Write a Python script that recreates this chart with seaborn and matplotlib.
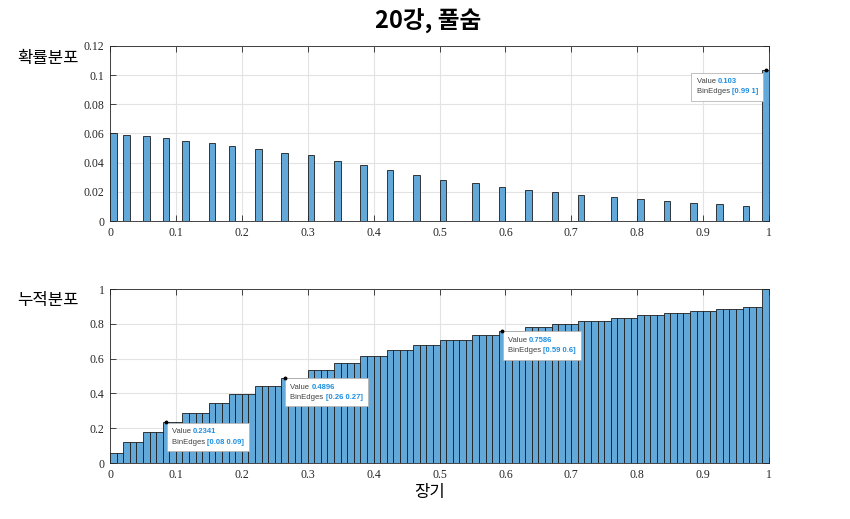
import numpy as np
import pandas as pd
import matplotlib
matplotlib.use("Agg")
import matplotlib.pyplot as plt
import seaborn as sns
from matplotlib.offsetbox import TextArea, HPacker, VPacker, AnnotationBbox

# ---------------- data ----------------
bin_index = [0, 2, 5, 8, 11, 15, 18, 22, 26, 30, 34, 38, 42, 46, 50,
             55, 59, 63, 67, 71, 76, 80, 84, 88, 92, 96, 99]
prob = [0.0601, 0.0592, 0.0582, 0.0566, 0.0551, 0.0532, 0.0513, 0.0494, 0.0465,
        0.0451, 0.0412, 0.0385, 0.0348, 0.0316, 0.0283, 0.0260, 0.0235,
        0.0212, 0.0196, 0.0180, 0.0164, 0.0150, 0.0134, 0.0122, 0.0115, 0.0101,
        0.1034]
n_bins = 100
title = "20강, 풀숨"
ylabel_top = "확률분포"
ylabel_bottom = "누적분포"
xlabel = "장기"
x_ticks = [0, 0.1, 0.2, 0.3, 0.4, 0.5, 0.6, 0.7, 0.8, 0.9, 1]
x_tick_labels = ["0", "0.1", "0.2", "0.3", "0.4", "0.5", "0.6", "0.7", "0.8", "0.9", "1"]
y_ticks_top = [0, 0.02, 0.04, 0.06, 0.08, 0.1, 0.12]
y_tick_labels_top = ["0", "0.02", "0.04", "0.06", "0.08", "0.1", "0.12"]
y_ticks_bottom = [0, 0.2, 0.4, 0.6, 0.8, 1]
y_tick_labels_bottom = ["0", "0.2", "0.4", "0.6", "0.8", "1"]
# datatips: (bin index, value text, edges text)
tips_top = [(99, "0.103", "[0.99 1]")]
tips_bottom = [(8, "0.2341", "[0.08 0.09]"), (26, "0.4896", "[0.26 0.27]"),
               (59, "0.7586", "[0.59 0.6]")]

edges = np.linspace(0, 1, n_bins + 1)
centers = (np.array(bin_index) + 0.5) / n_bins
df = pd.DataFrame({"x": centers, "p": prob})
per_bin = np.bincount(bin_index, weights=prob, minlength=n_bins)
cum = np.cumsum(per_bin)

# ---------------- style ----------------
sns.set_theme(style="white")
plt.rcParams["font.family"] = ["Noto Sans CJK KR", "DejaVu Sans"]
face = "#62A8D8"
edge = "#1c1c1c"
tick_font = dict(family="Liberation Serif", size=8.5)

fig = plt.figure(figsize=(8.5, 5.19), dpi=100)
W, H = 850, 519
ax1 = fig.add_axes([110 / W, 1 - 221 / H, 659 / W, 175 / H])
ax2 = fig.add_axes([110 / W, 1 - 463 / H, 659 / W, 174 / H])

sns.histplot(data=df, x="x", weights="p", bins=n_bins, binrange=(0, 1), ax=ax1,
             color=face, alpha=1, edgecolor=edge, linewidth=0.6, zorder=3)
sns.histplot(data=df, x="x", weights="p", bins=n_bins, binrange=(0, 1),
             cumulative=True, ax=ax2,
             color=face, alpha=1, edgecolor=edge, linewidth=0.6, zorder=3)

for ax, yt, ytl, ylim in [(ax1, y_ticks_top, y_tick_labels_top, (0, 0.12)),
                          (ax2, y_ticks_bottom, y_tick_labels_bottom, (0, 1))]:
    ax.set_xlim(0, 1)
    ax.set_ylim(*ylim)
    ax.set_xticks(x_ticks)
    ax.set_xticklabels(x_tick_labels, fontdict=tick_font, color="#262626")
    ax.set_yticks(yt)
    ax.set_yticklabels(ytl, fontdict=tick_font, color="#262626")
    ax.set_xlabel("")
    ax.set_ylabel("")
    ax.grid(True, color="#e3e3e3", linewidth=0.8, zorder=0)
    ax.set_axisbelow(True)
    ax.tick_params(direction="in", length=4, width=0.6, color="#262626",
                   top=True, right=True, bottom=True, left=True, pad=4)
    for s in ax.spines.values():
        s.set_color("#262626")
        s.set_linewidth(0.6)
        s.set_visible(True)


def datatip(ax, x, y, val, edg, align, offset):
    tp = dict(color="#404040", size=5.5, family="Liberation Sans")
    tb = dict(color="#1f8fe0", size=5.5, family="Liberation Sans", weight="bold")
    r1 = HPacker(children=[TextArea("Value ", textprops=tp), TextArea(val, textprops=tb)],
                 pad=0, sep=0)
    r2 = HPacker(children=[TextArea("BinEdges ", textprops=tp), TextArea(edg, textprops=tb)],
                 pad=0, sep=0)
    box = VPacker(children=[r1, r2], pad=0, sep=2.5, align="left")
    ab = AnnotationBbox(box, (x, y), xybox=offset, boxcoords="offset points",
                        box_alignment=align, pad=0.35, frameon=True,
                        bboxprops=dict(facecolor="white", edgecolor="#b5b5b5", linewidth=0.6),
                        zorder=10)
    ax.add_artist(ab)
    ax.plot([x], [y], "o", color="black", markersize=1.8, zorder=11, clip_on=False)


for b, val, edg in tips_top:
    datatip(ax1, edges[b] + 0.005, per_bin[b], val, edg, (1, 1), (-5.5, -5.6))
for b, val, edg in tips_bottom:
    datatip(ax2, edges[b] + 0.005, cum[b], val, edg, (0, 1), (4.2, -4.2))

fig.text(428 / W, 1 - 21 / H, title, ha="center", va="center", fontsize=17,
         fontweight="bold", color="black")
fig.text(48 / W, 1 - 58 / H, ylabel_top, ha="center", va="center", fontsize=12, color="black")
fig.text(48 / W, 1 - 300 / H, ylabel_bottom, ha="center", va="center", fontsize=12, color="black")
fig.text(430 / W, 1 - 493 / H, xlabel, ha="center", va="center", fontsize=12, color="black")

fig.savefig("out.png", dpi=100, facecolor="white")
